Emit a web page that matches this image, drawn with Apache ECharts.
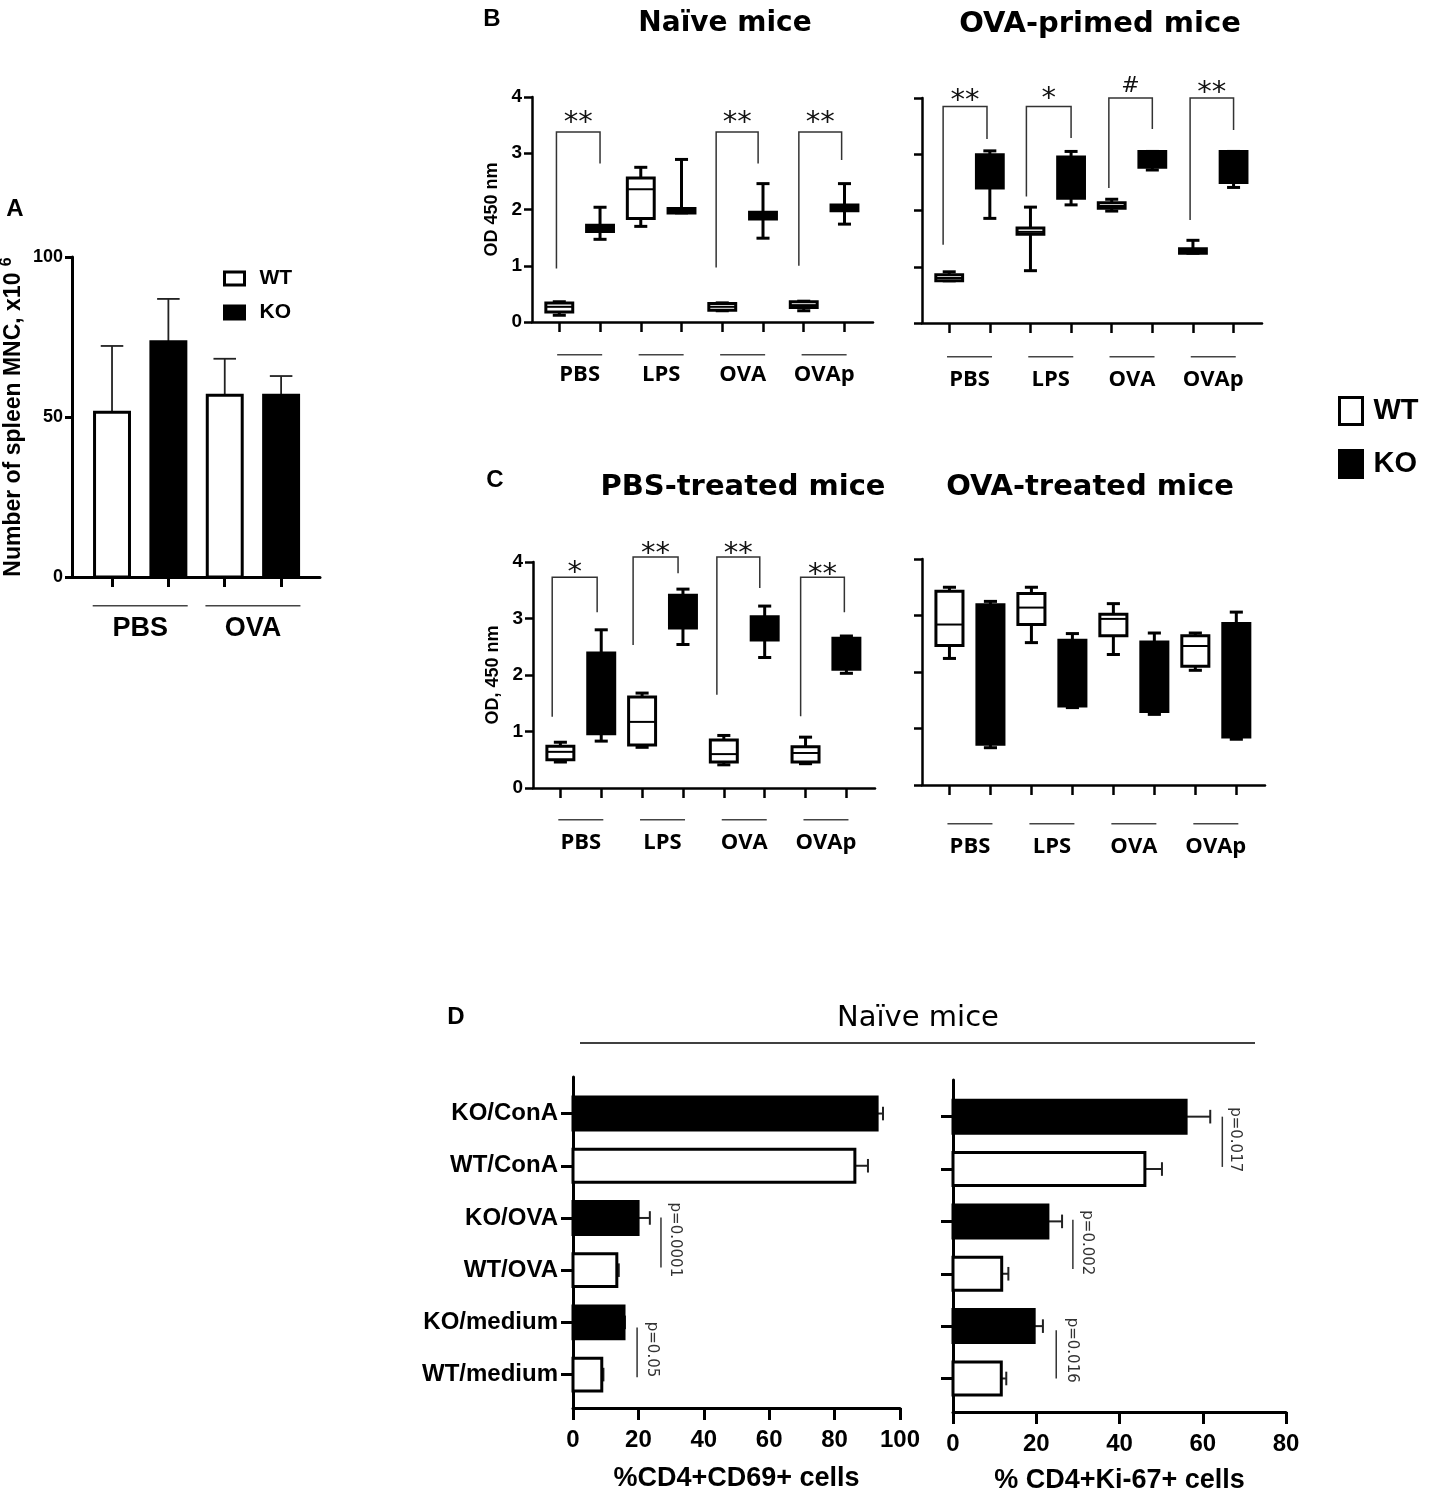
<!DOCTYPE html>
<html>
<head>
<meta charset="utf-8">
<title>Spleen MNC and OD 450 panels</title>
<script src="https://cdn.jsdelivr.net/npm/echarts@6/dist/echarts.min.js"></script>
<style>
  html, body { margin: 0; padding: 0; background: #fff; }
  #chart { width: 1431px; height: 1496px; }
</style>
</head>
<body>
<div id="chart"></div>
<script>
// ---------- data ----------
var stims = ['PBS', 'LPS', 'OVA', 'OVAp'];

// A: number of spleen MNC (x10^6), mean and upper SD
var aGroups = ['PBS', 'OVA'];
var aWT = [51.5, 56.8];
var aWTsd = [20.7, 11.4];
var aKO = [73.5, 56.8];
var aKOsd = [13.4, 6.0];

// B/C boxes, one per stimulus: [min, Q1, median, Q3, max]
var naiveWT = [[0.12, 0.18, 0.27, 0.34, 0.36], [1.70, 1.84, 2.36, 2.56, 2.75], [0.20, 0.21, 0.27, 0.33, 0.34], [0.20, 0.26, 0.30, 0.36, 0.37]];
var naiveKO = [[1.47, 1.61, 1.67, 1.72, 2.04], [1.94, 1.94, 2.00, 2.02, 2.89], [1.49, 1.83, 1.88, 1.95, 2.46], [1.74, 1.98, 2.03, 2.08, 2.46]];
var primedWT = [[0.75, 0.75, 0.80, 0.86, 0.91], [0.93, 1.58, 1.62, 1.69, 2.06], [1.99, 2.04, 2.08, 2.14, 2.20], [1.24, 1.24, 1.28, 1.32, 1.47]];
var primedKO = [[1.86, 2.40, 2.80, 2.99, 3.06], [2.10, 2.22, 2.60, 2.95, 3.05], [2.72, 2.77, 2.90, 3.05, 3.05], [2.41, 2.50, 2.80, 3.05, 3.05]];
var pbsWT = [[0.46, 0.50, 0.64, 0.74, 0.81], [0.72, 0.76, 1.17, 1.61, 1.68], [0.41, 0.46, 0.60, 0.85, 0.93], [0.43, 0.46, 0.62, 0.73, 0.90]];
var pbsKO = [[0.83, 0.96, 1.60, 2.39, 2.80], [2.54, 2.83, 3.10, 3.41, 3.52], [2.31, 2.62, 2.80, 3.03, 3.22], [2.03, 2.10, 2.40, 2.65, 2.69]];
var ovaWT = [[2.24, 2.47, 2.84, 3.43, 3.50], [2.52, 2.84, 3.14, 3.39, 3.50], [2.31, 2.64, 2.94, 3.02, 3.21], [2.03, 2.10, 2.46, 2.64, 2.69]];
var ovaKO = [[0.66, 0.72, 1.90, 3.19, 3.25], [1.37, 1.40, 2.00, 2.56, 2.68], [1.25, 1.30, 2.00, 2.53, 2.69], [0.81, 0.85, 2.00, 2.86, 3.06]];

// significance brackets: [x left, y left end, x right, y right end, y top, y of mark]
var naiveSig = [[0.93, 0.95, 2.00, 2.82, 3.38, 3.68], [4.85, 0.97, 5.88, 2.82, 3.38, 3.68], [6.88, 1.00, 7.93, 2.88, 3.38, 3.68]];
var naiveMarks = ['**', '**', '**'];
var primedSig = [[0.85, 1.39, 1.93, 3.27, 3.85, 4.08], [2.90, 2.25, 4.00, 3.29, 3.85, 4.12], [4.93, 2.40, 6.00, 3.45, 4.00, 4.20], [6.93, 1.83, 8.00, 3.43, 4.00, 4.22]];
var primedMarks = ['**', '*', '#', '**'];
var pbsSig = [[0.80, 1.26, 1.90, 3.11, 3.73, 3.93], [2.78, 2.53, 3.88, 3.80, 4.09, 4.28], [4.83, 1.65, 5.88, 3.54, 4.09, 4.28], [6.88, 1.27, 7.95, 3.11, 3.73, 3.91]];
var pbsMarks = ['*', '**', '**', '**'];

// D: naive mice, bottom to top
var dCats = ['WT/medium', 'KO/medium', 'WT/OVA', 'KO/OVA', 'WT/ConA', 'KO/ConA'];
var cd69 = [8.8, 15.6, 13.4, 19.9, 86.2, 93.0];
var cd69sd = [0.5, 0.3, 0.6, 3.6, 4.0, 1.8];
var ki67 = [11.6, 19.5, 11.7, 22.8, 46.1, 56.0];
var ki67sd = [1.2, 2.1, 1.6, 3.4, 4.1, 5.8];

// p-value marks: [x of line, y line start, y line end, x of text, y of text]
var cd69P = [[26.9, 4.01, 3.05, 31.2, 3.58], [19.6, 1.90, 0.95, 24.2, 1.48]];
var cd69PText = ['p=0.0001', 'p=0.05'];
var ki67P = [[64.7, 6.00, 5.04, 67.8, 5.56], [28.8, 4.03, 3.09, 32.2, 3.59], [24.8, 1.92, 1.00, 28.6, 1.54]];
var ki67PText = ['p=0.017', 'p=0.002', 'p=0.016'];

// ---------- helpers ----------
var SANS = "'Liberation Sans', Arial, sans-serif";
var chart = echarts.init(document.getElementById('chart'));

function stroke(w, c) { return { stroke: c || '#000', lineWidth: w, fill: 'none' }; }

function boxRender(fill) {
    return function (params, api) {
        var x = api.value(0);
        var lo = api.coord([x, api.value(1)]);
        var q1 = api.coord([x, api.value(2)]);
        var md = api.coord([x, api.value(3)]);
        var q3 = api.coord([x, api.value(4)]);
        var hi = api.coord([x, api.value(5)]);
        var bw = api.size([0.66, 0])[0];
        var cw = api.size([0.32, 0])[0];
        var cx = lo[0];
        return {
            type: 'group',
            children: [
                { type: 'line', shape: { x1: cx, y1: lo[1], x2: cx, y2: q1[1] }, style: stroke(3) },
                { type: 'line', shape: { x1: cx, y1: q3[1], x2: cx, y2: hi[1] }, style: stroke(3) },
                { type: 'line', shape: { x1: cx - cw / 2, y1: lo[1], x2: cx + cw / 2, y2: lo[1] }, style: stroke(3) },
                { type: 'line', shape: { x1: cx - cw / 2, y1: hi[1], x2: cx + cw / 2, y2: hi[1] }, style: stroke(3) },
                { type: 'rect', shape: { x: cx - bw / 2, y: q3[1], width: bw, height: Math.max(q1[1] - q3[1], 1) },
                  style: { fill: fill, stroke: '#000', lineWidth: 3 } },
                { type: 'line', shape: { x1: cx - bw / 2, y1: md[1], x2: cx + bw / 2, y2: md[1] }, style: stroke(2) }
            ]
        };
    };
}

function sigRender(marks) {
    return function (params, api) {
        var xl = api.value(0), yl = api.value(1), xr = api.value(2), yr = api.value(3), yt = api.value(4);
        var a = api.coord([xl, yl]), b = api.coord([xl, yt]), c = api.coord([xr, yt]), d = api.coord([xr, yr]);
        var t = api.coord([(xl + xr) / 2, api.value(5)]);
        var m = marks[params.dataIndex];
        var hash = m === '#';
        return {
            type: 'group',
            children: [
                { type: 'polyline', shape: { points: [a, b, c, d] }, style: stroke(1.5, '#333') },
                { type: 'text', x: t[0], y: t[1] + (hash ? 0 : 8),
                  style: { text: m, fill: '#111', font: (hash ? '22px' : '29px') + " 'DejaVu Sans'", align: 'center', verticalAlign: 'middle' } }
            ]
        };
    };
}

function vbarRender(fill) {
    return function (params, api) {
        var x = api.value(0), v = api.value(1), sd = api.value(2);
        var o = api.coord([x, 0]), e = api.coord([x, v]), t = api.coord([x, v + sd]);
        var w = api.size([0.62, 0])[0], cw = api.size([0.4, 0])[0];
        return {
            type: 'group',
            children: [
                { type: 'line', shape: { x1: e[0], y1: e[1], x2: t[0], y2: t[1] }, style: stroke(1.8, '#222') },
                { type: 'line', shape: { x1: t[0] - cw / 2, y1: t[1], x2: t[0] + cw / 2, y2: t[1] }, style: stroke(1.8, '#222') },
                { type: 'rect', shape: { x: o[0] - w / 2, y: e[1], width: w, height: o[1] - e[1] },
                  style: { fill: fill, stroke: '#000', lineWidth: 3 } }
            ]
        };
    };
}

function hbarRender(fill) {
    return function (params, api) {
        var v = api.value(0), p = api.value(1), sd = api.value(2);
        var o = api.coord([0, p]), e = api.coord([v, p]), t = api.coord([v + sd, p]);
        var h = api.size([0, 0.63])[1], ch = api.size([0, 0.26])[1];
        return {
            type: 'group',
            children: [
                { type: 'line', shape: { x1: e[0], y1: e[1], x2: t[0], y2: t[1] }, style: stroke(2, '#222') },
                { type: 'line', shape: { x1: t[0], y1: t[1] - ch / 2, x2: t[0], y2: t[1] + ch / 2 }, style: stroke(2, '#222') },
                { type: 'rect', shape: { x: o[0], y: o[1] - h / 2, width: e[0] - o[0], height: h },
                  style: { fill: fill, stroke: '#000', lineWidth: 3 } }
            ]
        };
    };
}

function pRender(texts) {
    return function (params, api) {
        var a = api.coord([api.value(0), api.value(1)]);
        var b = api.coord([api.value(0), api.value(2)]);
        var t = api.coord([api.value(3), api.value(4)]);
        return {
            type: 'group',
            children: [
                { type: 'line', shape: { x1: a[0], y1: a[1], x2: b[0], y2: b[1] }, style: stroke(1.5, '#333') },
                { type: 'text', x: t[0], y: t[1], rotation: -Math.PI / 2,
                  style: { text: texts[params.dataIndex], fill: '#333', font: "15px 'DejaVu Sans'", align: 'center', verticalAlign: 'middle' } }
            ]
        };
    };
}

function boxRows(list, offset) {
    return list.map(function (b, i) { return [2 * i + offset].concat(b); });
}

function hbarRows(vals, sds, prefix) {
    var rows = [];
    vals.forEach(function (v, i) {
        if (dCats[i].indexOf(prefix) === 0) rows.push([v, i + 1, sds[i]]);
    });
    return rows;
}

function custom(name, gi, render, data) {
    return {
        type: 'custom', name: name, coordinateSystem: 'cartesian2d',
        xAxisIndex: gi, yAxisIndex: gi, renderItem: render, data: data,
        silent: true, clip: false,
        itemStyle: name === 'WT' ? { color: '#fff', borderColor: '#000', borderWidth: 3 } : { color: '#000' }
    };
}

var axisStroke = function (w) { return { color: '#000', width: w }; };

function boxX(gi, margin, gap) {
    return {
        type: 'value', gridIndex: gi, min: 0.33, max: 8.7,
        splitLine: { show: false },
        axisLine: { show: true, onZero: false, lineStyle: axisStroke(2.5) },
        axisTick: { show: true, customValues: [1, 2, 3, 4, 5, 6, 7, 8], length: 10, lineStyle: axisStroke(2.5) },
        axisLabel: {
            customValues: [1.5, 3.5, 5.5, 7.5], margin: margin,
            formatter: function (v) { return '{ln|}\n{t|' + stims[Math.round((v - 1.5) / 2)] + '}'; },
            rich: {
                ln: { width: 45, height: 1.5, backgroundColor: '#444' },
                t: { fontFamily: "'Open Sans', sans-serif", fontWeight: 'bold', fontSize: 22, color: '#000', lineHeight: gap }
            }
        }
    };
}

function boxY(gi, name) {
    return {
        type: 'value', gridIndex: gi, min: 0, max: 4, interval: 1,
        splitLine: { show: false },
        axisLine: { show: true, lineStyle: axisStroke(2.5) },
        axisTick: { show: true, length: 8, lineStyle: axisStroke(2.5) },
        axisLabel: { show: !!name, margin: 10, fontFamily: SANS, fontWeight: 'bold', fontSize: 19, color: '#000' },
        name: name || '', nameLocation: 'middle', nameRotate: 90, nameGap: 31,
        nameTextStyle: { fontFamily: SANS, fontWeight: 'bold', fontSize: 18, color: '#000' }
    };
}

function dX(gi, max, name, gap) {
    return {
        type: 'value', gridIndex: gi, min: 0, max: max, interval: 20,
        splitLine: { show: false },
        axisLine: { show: true, onZero: false, lineStyle: axisStroke(3) },
        axisTick: { show: true, length: 12, lineStyle: axisStroke(3) },
        axisLabel: { margin: 20, fontFamily: SANS, fontWeight: 'bold', fontSize: 24, color: '#000' },
        name: name, nameLocation: 'middle', nameGap: gap,
        nameTextStyle: { fontFamily: SANS, fontWeight: 'bold', fontSize: 27, color: '#000' }
    };
}

function dY(gi, showLabels) {
    return {
        type: 'value', gridIndex: gi, min: 0.36, max: 6.7,
        splitLine: { show: false },
        axisLine: { show: true, onZero: false, lineStyle: axisStroke(3) },
        axisTick: { show: true, customValues: [1, 2, 3, 4, 5, 6], length: 12, lineStyle: axisStroke(3) },
        axisLabel: {
            show: showLabels, customValues: [1, 2, 3, 4, 5, 6], margin: 15,
            formatter: function (v) { return dCats[Math.round(v) - 1]; },
            fontFamily: SANS, fontWeight: 'bold', fontSize: 24, color: '#000'
        }
    };
}

function txt(s, x, y, font) {
    return { type: 'text', x: x, y: y, style: { text: s, font: font, fill: '#000', align: 'center', verticalAlign: 'middle' } };
}

function legendData(bw) {
    return [
        { name: 'WT', icon: 'rect', itemStyle: { color: '#fff', borderColor: '#000', borderWidth: bw } },
        { name: 'KO', icon: 'rect', itemStyle: { color: '#000', borderColor: '#000', borderWidth: bw } }
    ];
}

// ---------- layout ----------
var grids = [
    { left: 72, top: 257, width: 248, height: 320 },    // A
    { left: 532, top: 97, width: 341, height: 225 },    // B naive
    { left: 922, top: 98, width: 340, height: 225 },    // B OVA-primed
    { left: 533, top: 562, width: 342, height: 226 },   // C PBS-treated
    { left: 922, top: 559, width: 343, height: 226 },   // C OVA-treated
    { left: 573, top: 1077, width: 327, height: 331 },  // D CD69
    { left: 953, top: 1080, width: 333, height: 332 }   // D Ki-67
].map(function (g) { g.containLabel = false; g.outerBoundsMode = 'none'; return g; });

var xA = {
    type: 'value', gridIndex: 0, min: 0.29, max: 4.69,
    splitLine: { show: false },
    axisLine: { show: true, onZero: false, lineStyle: axisStroke(3) },
    axisTick: { show: true, customValues: [1, 2, 3, 4], length: 10, lineStyle: axisStroke(3) },
    axisLabel: {
        customValues: [1.5, 3.5], margin: 28,
        formatter: function (v) { return '{ln|}\n{t|' + aGroups[Math.round((v - 1.5) / 2)] + '}'; },
        rich: {
            ln: { width: 95, height: 1.5, backgroundColor: '#444' },
            t: { fontFamily: SANS, fontWeight: 'bold', fontSize: 27, color: '#000', lineHeight: 44 }
        }
    }
};
var yA = {
    type: 'value', gridIndex: 0, min: 0, max: 100, interval: 50,
    splitLine: { show: false },
    axisLine: { show: true, lineStyle: axisStroke(3) },
    axisTick: { show: true, length: 7, lineStyle: axisStroke(3) },
    axisLabel: { margin: 9, fontFamily: SANS, fontWeight: 'bold', fontSize: 18, color: '#000' },
    name: 'Number of spleen MNC, x10 {s|6}', nameLocation: 'middle', nameRotate: 90, nameGap: 43,
    nameTextStyle: {
        fontFamily: SANS, fontWeight: 'bold', fontSize: 23, color: '#000', lineHeight: 30,
        rich: { s: { fontFamily: SANS, fontWeight: 'bold', fontSize: 16, color: '#000', verticalAlign: 'top', lineHeight: 30 } }
    }
};

var aRows = function (vals, sds, offset) { return vals.map(function (v, i) { return [2 * i + offset, v, sds[i]]; }); };

var option = {
    animation: false,
    backgroundColor: '#fff',
    textStyle: { fontFamily: SANS },
    grid: grids,
    xAxis: [xA, boxX(1, 32, 38), boxX(2, 33, 44), boxX(3, 31, 44), boxX(4, 38, 44),
            dX(5, 100, '%CD4+CD69+ cells', 57), dX(6, 80, '% CD4+Ki-67+ cells', 55)],
    yAxis: [yA, boxY(1, 'OD 450 nm'), boxY(2, ''), boxY(3, 'OD, 450 nm'), boxY(4, ''), dY(5, true), dY(6, false)],
    legend: [
        { left: 223, top: 268, padding: 0, orient: 'vertical', itemWidth: 20, itemHeight: 13, itemGap: 13, selectedMode: false,
          textStyle: { fontFamily: SANS, fontWeight: 'bold', fontSize: 21, color: '#000', padding: [0, 0, 0, 10] },
          data: legendData(3) },
        { left: 1338, top: 396, padding: 0, orient: 'vertical', itemWidth: 23, itemHeight: 27, itemGap: 23, selectedMode: false,
          textStyle: { fontFamily: SANS, fontWeight: 'bold', fontSize: 29, color: '#000', padding: [0, 0, 0, 6] },
          data: legendData(3) }
    ],
    graphic: [
        txt('A', 15, 209, 'bold 24px ' + SANS),
        txt('B', 492, 19, 'bold 24px ' + SANS),
        txt('C', 495, 480, 'bold 24px ' + SANS),
        txt('D', 456, 1017, 'bold 24px ' + SANS),
        txt('Naïve mice', 725, 24, "bold 28px 'DejaVu Sans'"),
        txt('OVA-primed mice', 1100, 24, "bold 29px 'DejaVu Sans'"),
        txt('PBS-treated mice', 743, 487, "bold 29px 'DejaVu Sans'"),
        txt('OVA-treated mice', 1090, 487, "bold 29px 'DejaVu Sans'"),
        txt('Naïve mice', 918, 1018, "29px 'DejaVu Sans'"),
        { type: 'line', shape: { x1: 580, y1: 1043, x2: 1255, y2: 1043 }, style: { stroke: '#000', lineWidth: 1.5 } }
    ],
    series: [
        custom('WT', 0, vbarRender('#fff'), aRows(aWT, aWTsd, 1)),
        custom('KO', 0, vbarRender('#000'), aRows(aKO, aKOsd, 2)),

        custom('WT', 1, boxRender('#fff'), boxRows(naiveWT, 1)),
        custom('KO', 1, boxRender('#000'), boxRows(naiveKO, 2)),
        custom('sig', 1, sigRender(naiveMarks), naiveSig),

        custom('WT', 2, boxRender('#fff'), boxRows(primedWT, 1)),
        custom('KO', 2, boxRender('#000'), boxRows(primedKO, 2)),
        custom('sig', 2, sigRender(primedMarks), primedSig),

        custom('WT', 3, boxRender('#fff'), boxRows(pbsWT, 1)),
        custom('KO', 3, boxRender('#000'), boxRows(pbsKO, 2)),
        custom('sig', 3, sigRender(pbsMarks), pbsSig),

        custom('WT', 4, boxRender('#fff'), boxRows(ovaWT, 1)),
        custom('KO', 4, boxRender('#000'), boxRows(ovaKO, 2)),

        custom('WT', 5, hbarRender('#fff'), hbarRows(cd69, cd69sd, 'WT')),
        custom('KO', 5, hbarRender('#000'), hbarRows(cd69, cd69sd, 'KO')),
        custom('sig', 5, pRender(cd69PText), cd69P),

        custom('WT', 6, hbarRender('#fff'), hbarRows(ki67, ki67sd, 'WT')),
        custom('KO', 6, hbarRender('#000'), hbarRows(ki67, ki67sd, 'KO')),
        custom('sig', 6, pRender(ki67PText), ki67P)
    ]
};

chart.setOption(option);
</script>
</body>
</html>
